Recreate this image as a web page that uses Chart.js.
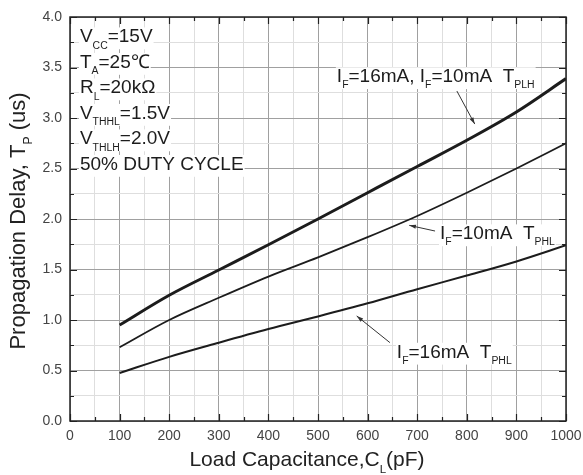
<!DOCTYPE html>
<html>
<head>
<meta charset="utf-8">
<title>Propagation Delay vs Load Capacitance</title>
<script src="https://cdn.jsdelivr.net/npm/chart.js@4.4.1/dist/chart.umd.min.js"></script>
<style>
  html, body { margin: 0; padding: 0; background: #fff; }
  canvas { display: block; }
</style>
</head>
<body>
<canvas id="chartDelay" width="583" height="475"></canvas>
<script>
/* ---- data ---- */
const capacitance = [100, 200, 300, 400, 500, 600, 700, 800, 900, 1000];   // pF
const tplh        = [0.95, 1.245, 1.495, 1.745, 2.00, 2.26, 2.52, 2.78, 3.06, 3.39]; // IF=16mA & 10mA, TPLH
const tphl10      = [0.73, 1.00, 1.22, 1.43, 1.62, 1.82, 2.03, 2.26, 2.50, 2.75];   // IF=10mA, TPHL
const tphl16      = [0.475, 0.635, 0.775, 0.91, 1.035, 1.165, 1.305, 1.44, 1.58, 1.74]; // IF=16mA, TPHL

const xMajor = [0, 100, 200, 300, 400, 500, 600, 700, 800, 900, 1000];
const yMajor = [0.0, 0.5, 1.0, 1.5, 2.0, 2.5, 3.0, 3.5, 4.0];

const conditions = ['V_{CC}=15V', 'T_{A}=25\u2103', 'R_{L}=20k\u03A9', 'V_{THHL}=1.5V', 'V_{THLH}=2.0V', '50% DUTY CYCLE'];
const curveLabels = ['I_{F}=16mA, I_{F}=10mA  T_{PLH}', 'I_{F}=10mA  T_{PHL}', 'I_{F}=16mA  T_{PHL}'];

/* label anchors (data units) and arrows: [tailX, tailY, headX, headY] */
const labelAt  = [[538, 3.356], [746, 1.80], [659, 0.628]];
const arrowsAt = [[780, 3.267, 816, 2.94], [736, 1.881, 684, 1.937], [645, 0.776, 578, 1.04]];
const condAt   = [20, 3.75];

const FONT = "'Liberation Sans', Arial, sans-serif";
const INK  = '#1c1c1c';

/* text with _{sub} markup */
function rich(ctx, str, x, y, size, draw) {
  const parts = [];
  const re = /_\{([^}]*)\}/g;
  let last = 0, m;
  while ((m = re.exec(str))) {
    if (m.index > last) parts.push([str.slice(last, m.index), false]);
    parts.push([m[1], true]);
    last = re.lastIndex;
  }
  if (last < str.length) parts.push([str.slice(last), false]);
  let cx = x;
  parts.forEach(([t, sub]) => {
    const s = sub ? size * 0.55 : size;
    ctx.font = s + 'px ' + FONT;
    if (draw) ctx.fillText(t, cx, sub ? y + size * 0.33 : y);
    cx += ctx.measureText(t).width;
  });
  return cx - x;
}

function labelBox(ctx, str, x, y, size) {
  const w = rich(ctx, str, x, y, size, false);
  ctx.fillStyle = '#fff';
  ctx.fillRect(x - 1, y - size * 0.78, w + 2, size * 1.15);
  ctx.fillStyle = INK;
  rich(ctx, str, x, y, size, true);
}

const decor = {
  id: 'decor',
  afterDatasetsDraw(chart) {
    const { ctx, chartArea: a, scales: { x, y } } = chart;
    ctx.save();
    ctx.textBaseline = 'alphabetic';
    ctx.textAlign = 'left';

    // conditions block
    conditions.forEach((c, i) => {
      labelBox(ctx, c, x.getPixelForValue(condAt[0]), y.getPixelForValue(condAt[1]) + i * 25.5, 19);
    });

    // curve labels + arrows
    curveLabels.forEach((c, i) => {
      labelBox(ctx, c, x.getPixelForValue(labelAt[i][0]), y.getPixelForValue(labelAt[i][1]), 19);
    });
    ctx.strokeStyle = '#333';
    ctx.fillStyle = '#333';
    ctx.lineWidth = 1;
    arrowsAt.forEach(([tx, ty, hx, hy]) => {
      const x1 = x.getPixelForValue(tx), y1 = y.getPixelForValue(ty);
      const x2 = x.getPixelForValue(hx), y2 = y.getPixelForValue(hy);
      ctx.beginPath(); ctx.moveTo(x1, y1); ctx.lineTo(x2, y2); ctx.stroke();
      const ang = Math.atan2(y2 - y1, x2 - x1);
      ctx.beginPath();
      ctx.moveTo(x2, y2);
      ctx.lineTo(x2 - 7 * Math.cos(ang - 0.3), y2 - 7 * Math.sin(ang - 0.3));
      ctx.lineTo(x2 - 7 * Math.cos(ang + 0.3), y2 - 7 * Math.sin(ang + 0.3));
      ctx.closePath(); ctx.fill();
    });

    // inward ticks on all four sides
    ctx.strokeStyle = '#222';
    ctx.lineWidth = 1.2;
    ctx.beginPath();
    for (let v = 0; v <= 1000; v += 50) {
      const px = Math.round(x.getPixelForValue(v)) + 0.5;
      const len = v % 100 === 0 ? 7 : 4;
      ctx.moveTo(px, a.bottom); ctx.lineTo(px, a.bottom - len);
      ctx.moveTo(px, a.top);    ctx.lineTo(px, a.top + len);
    }
    for (let k = 0; k <= 16; k++) {
      const py = Math.round(y.getPixelForValue(k * 0.25)) + 0.5;
      const len = k % 2 === 0 ? 7 : 4;
      ctx.moveTo(a.left, py);  ctx.lineTo(a.left + len, py);
      ctx.moveTo(a.right, py); ctx.lineTo(a.right - len, py);
    }
    ctx.stroke();

    // frame
    ctx.strokeStyle = '#222';
    ctx.lineWidth = 1.5;
    ctx.strokeRect(a.left, a.top, a.right - a.left, a.bottom - a.top);

    // axis titles
    ctx.fillStyle = '#222';
    const xt = 'Load Capacitance,C_{L}(pF)';
    const xw = rich(ctx, xt, 0, 0, 21, false);
    rich(ctx, xt, (a.left + a.right) / 2 - 11 - xw / 2, 466, 21, true);

    const yt = 'Propagation Delay, T_{P} (us)';
    const yw = rich(ctx, yt, 0, 0, 22, false);
    ctx.translate(25, (a.top + a.bottom) / 2 + 2);
    ctx.rotate(-Math.PI / 2);
    rich(ctx, yt, -yw / 2, 0, 22, true);
    ctx.restore();
  }
};

const series = (data, width) => ({
  data: capacitance.map((c, i) => ({ x: c, y: data[i] })),
  borderColor: INK,
  borderWidth: width,
  pointRadius: 0,
  cubicInterpolationMode: 'monotone',
  fill: false,
});

new Chart(document.getElementById('chartDelay'), {
  type: 'line',
  data: {
    datasets: [series(tplh, 3), series(tphl10, 1.8), series(tphl16, 2)],
  },
  options: {
    responsive: false,
    animation: false,
    layout: { padding: { top: 17, right: 17, left: 0, bottom: 0 } },
    plugins: { legend: { display: false }, tooltip: { enabled: false } },
    scales: {
      x: {
        type: 'linear', min: 0, max: 1000,
        afterFit: s => { s.height = 54; s.paddingLeft = 0; s.paddingRight = 0; },
        border: { display: false },
        grid: {
          drawTicks: false,
          color: c => (c.tick && xMajor.includes(c.tick.value)) ? '#a0a0a0' : '#dedede',
          lineWidth: 1,
        },
        ticks: {
          stepSize: 50, autoSkip: false, maxRotation: 0, padding: 7,
          color: '#444', font: { family: FONT, size: 14 },
          callback: v => xMajor.includes(v) ? String(v) : '',
        },
      },
      y: {
        type: 'linear', min: 0, max: 4,
        afterFit: s => { s.width = 70; },
        border: { display: false },
        grid: {
          drawTicks: false,
          color: c => (c.tick && yMajor.some(m => Math.abs(m - c.tick.value) < 1e-6)) ? '#a0a0a0' : '#dedede',
          lineWidth: 1,
        },
        ticks: {
          stepSize: 0.25, autoSkip: false, padding: 8,
          color: '#444', font: { family: FONT, size: 14 },
          callback: v => yMajor.some(m => Math.abs(m - v) < 1e-6) ? v.toFixed(1) : '',
        },
      },
    },
  },
  plugins: [decor],
});
</script>
</body>
</html>
